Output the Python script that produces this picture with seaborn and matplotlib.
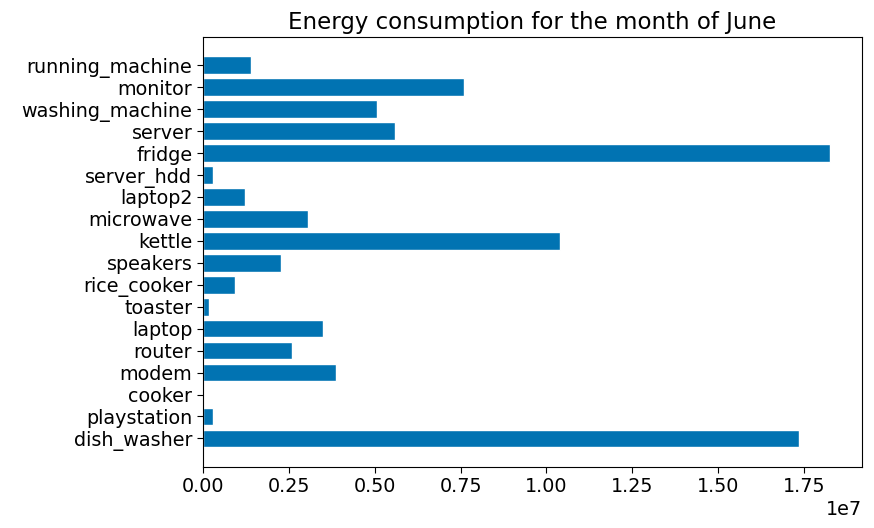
import matplotlib
matplotlib.use("Agg")
import matplotlib.pyplot as plt
import seaborn as sns
import pandas as pd

# appliances, bottom to top as in the reference
appliances = ['dish_washer', 'playstation', 'cooker', 'modem', 'router',
              'laptop', 'toaster', 'rice_cooker', 'speakers', 'kettle',
              'microwave', 'laptop2', 'server_hdd', 'fridge', 'server',
              'washing_machine', 'monitor', 'running_machine']
energy = [1.735e7, 0.031e7, 0.0, 0.387e7, 0.261e7,
          0.351e7, 0.019e7, 0.093e7, 0.227e7, 1.040e7,
          0.306e7, 0.123e7, 0.031e7, 1.826e7, 0.559e7,
          0.508e7, 0.759e7, 0.140e7]

df = pd.DataFrame({'appliance': appliances, 'energy': energy})
# seaborn puts the first category on top, so reverse
df = df.iloc[::-1].reset_index(drop=True)

sns.set_style('ticks')
plt.rcParams['font.family'] = ['DejaVu Sans']
plt.rcParams['font.size'] = 13.8

fig, ax = plt.subplots(figsize=(8.74, 5.28), dpi=100)
fig.subplots_adjust(left=0.232, right=0.986, top=0.93, bottom=0.116)

sns.barplot(data=df, x='energy', y='appliance', orient='h',
            color='#0173b2', saturation=1, width=0.8, ax=ax)

n = len(appliances)
ax.set_ylim(n - 1 + 1.29, -1.29)
ax.set_xlim(0, max(energy) * 1.05)
ax.set_xticks([0, 0.25e7, 0.5e7, 0.75e7, 1.0e7, 1.25e7, 1.5e7, 1.75e7])
ax.set_xlabel('')
ax.set_ylabel('')
ax.set_title('Energy consumption for the month of June', fontsize=16.5,
             color='black')
for s in ax.spines.values():
    s.set_visible(True)
    s.set_color('black')
    s.set_linewidth(0.8)
ax.tick_params(colors='black', labelcolor='black', length=4, width=0.8)
ax.xaxis.get_offset_text().set_color('black')

fig.savefig('out.png', dpi=100)
